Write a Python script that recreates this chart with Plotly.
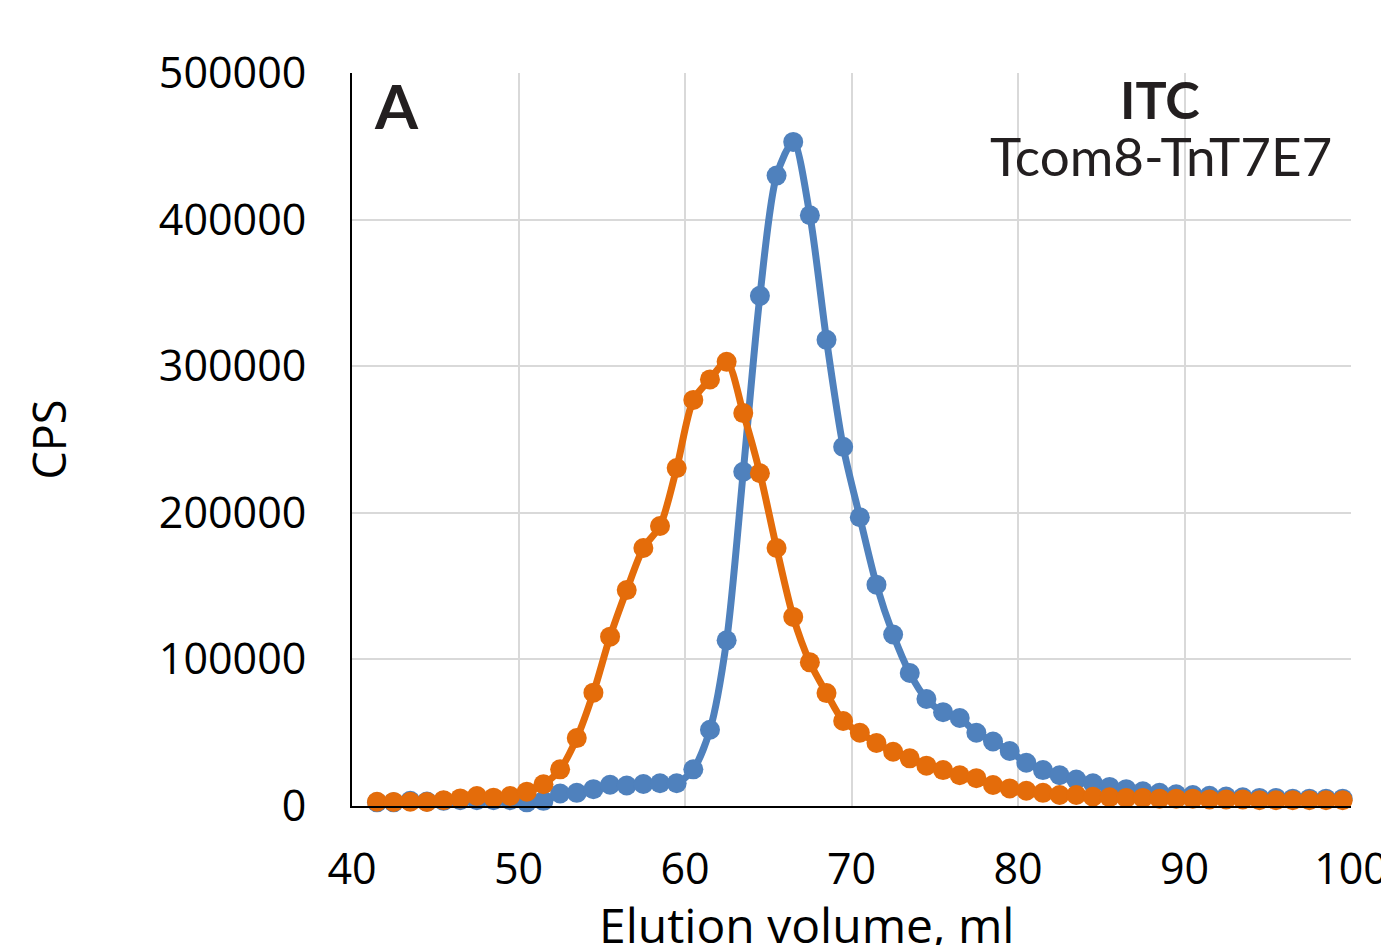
import plotly.graph_objects as go

volume_ml = [41.5 + i for i in range(59)]

blue_cps = [2500, 2500, 3500, 3000, 3500, 4000, 4000, 4000, 4000, 2500,
            3500, 8500, 9000, 11500, 14500, 14000, 15000, 15500, 15500, 25000,
            52000, 113000, 228000, 348000, 430000, 453000, 403000, 318000, 245000, 197000,
            151000, 117000, 90700, 73000, 64000, 60000, 50000, 44000, 37500, 29500,
            24500, 21000, 18000, 15500, 13000, 11500, 10000, 9000, 8000, 7500,
            7000, 6500, 6000, 5500, 5500, 5000, 5000, 5000, 5000]

orange_cps = [2900, 2800, 2900, 2800, 4000, 5200, 6800, 5700, 6800, 9800,
              14800, 25000, 46300, 77300, 115500, 147300, 176000, 191000, 230500, 277000,
              291000, 303000, 268000, 227000, 176000, 129000, 98000, 77000, 58000, 50000,
              43000, 37000, 32500, 27500, 24500, 21000, 19000, 14300, 12000, 10400,
              9000, 7500, 7500, 6300, 6000, 5500, 5500, 5000, 5000, 5000,
              4500, 4500, 4500, 4000, 4000, 4000, 4000, 4000, 4000]

x_ticks = [40, 50, 60, 70, 80, 90, 100]
y_ticks = [0, 100000, 200000, 300000, 400000, 500000]

BLUE = "#4F81BD"
ORANGE = "#E46C0A"
FONT = "Open Sans"

fig = go.Figure()
fig.add_trace(go.Scatter(x=volume_ml, y=blue_cps, mode="lines+markers",
                         line=dict(color=BLUE, width=7, shape="spline", smoothing=0.8),
                         marker=dict(color=BLUE, size=20), showlegend=False,
                         cliponaxis=False))
fig.add_trace(go.Scatter(x=volume_ml, y=orange_cps, mode="lines+markers",
                         line=dict(color=ORANGE, width=7, shape="spline", smoothing=0.8),
                         marker=dict(color=ORANGE, size=20), showlegend=False,
                         cliponaxis=False))

fig.update_layout(
    width=1381, height=937,
    margin=dict(l=344, r=38, t=65, b=139),
    paper_bgcolor="white", plot_bgcolor="white",
    font=dict(family=FONT, size=43, color="black"),
    xaxis=dict(range=[40, 100], tickvals=x_ticks, ticktext=[str(v) for v in x_ticks],
               showgrid=True, gridcolor="#D9D9D9", gridwidth=2,
               showline=True, linecolor="black", linewidth=2,
               ticks="", ticklabelstandoff=24, zeroline=False, automargin=False),
    yaxis=dict(range=[0, 500000], tickvals=y_ticks, ticktext=[str(v) for v in y_ticks],
               showgrid=True, gridcolor="#D9D9D9", gridwidth=2,
               showline=True, linecolor="black", linewidth=2,
               ticks="", ticklabelstandoff=35, zeroline=False, automargin=False,
               title=dict(text="CPS", standoff=78, font=dict(family=FONT, size=45))),
    annotations=[
        dict(text="Elution volume, ml", x=0.4545, y=-0.162, xref="paper", yref="paper",
             xanchor="center", yanchor="middle", showarrow=False,
             font=dict(family=FONT, size=48, color="black")),
        dict(text="<b>A</b>", x=0.045, y=0.957, xref="paper", yref="paper",
             xanchor="center", yanchor="middle",
             showarrow=False, font=dict(family="Lato", size=62, color="#231F20")),
        dict(text="<b>ITC</b>", x=0.809, y=0.965, xref="paper", yref="paper",
             xanchor="center", yanchor="middle",
             showarrow=False, font=dict(family="Lato", size=52, color="#231F20")),
        dict(text="Tcom8-TnT7E7", x=0.810, y=0.888, xref="paper", yref="paper",
             xanchor="center", yanchor="middle",
             showarrow=False, font=dict(family="Lato", size=53, color="#231F20")),
    ],
)

fig.write_html("out.html")
